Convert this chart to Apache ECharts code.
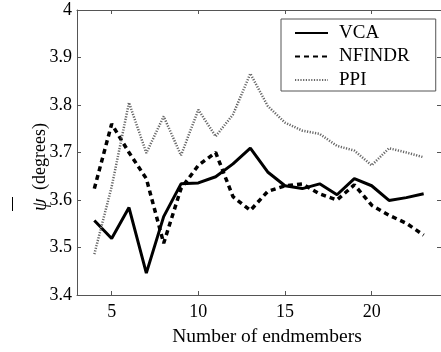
<!DOCTYPE html>
<html>
<head>
<meta charset="utf-8">
<script src="https://cdn.jsdelivr.net/npm/echarts@6/dist/echarts.min.js"></script>
<style>
  html, body { margin: 0; padding: 0; background: #fff; }
  #chart { width: 441px; height: 352px; }
</style>
</head>
<body>
<div id="chart"></div>
<script>
// Number of endmembers (x values)
const endmembers = [4, 5, 6, 7, 8, 9, 10, 11, 12, 13, 14, 15, 16, 17, 18, 19, 20, 21, 22, 23];
// Mean spectral angle (degrees) per algorithm
const vca    = [3.557, 3.519, 3.584, 3.446, 3.565, 3.634, 3.636, 3.649, 3.676, 3.709, 3.659, 3.630, 3.624, 3.634, 3.611, 3.645, 3.630, 3.599, 3.605, 3.613];
const nfindr = [3.624, 3.760, 3.700, 3.645, 3.509, 3.624, 3.673, 3.700, 3.607, 3.578, 3.618, 3.630, 3.634, 3.613, 3.600, 3.632, 3.589, 3.568, 3.551, 3.526];
const ppi    = [3.486, 3.628, 3.805, 3.699, 3.776, 3.694, 3.790, 3.734, 3.780, 3.866, 3.798, 3.763, 3.746, 3.739, 3.714, 3.704, 3.673, 3.709, 3.700, 3.690];
// Axis tick values
const xTicks = [5, 10, 15, 20];
const yTicks = [3.4, 3.5, 3.6, 3.7, 3.8, 3.9, 4.0];

const pairs = ys => endmembers.map((x, i) => [x, ys[i]]);
const FONT = "'Liberation Serif', 'Times New Roman', serif";
const frameColor = '#555';

const chart = echarts.init(document.getElementById('chart'), null, { renderer: 'canvas' });

const xBase = {
  type: 'value', min: 3, max: 24,
  axisLine: { show: true, lineStyle: { color: frameColor, width: 1 } },
  axisTick: { show: true, inside: true, length: 4, customValues: xTicks, lineStyle: { color: frameColor } },
  splitLine: { show: false }
};
const yBase = {
  type: 'value', min: 3.4, max: 4.0,
  axisLine: { show: true, lineStyle: { color: frameColor, width: 1 } },
  axisTick: { show: true, inside: true, length: 4, customValues: yTicks, lineStyle: { color: frameColor } },
  splitLine: { show: false }
};

chart.setOption({
  animation: false,
  backgroundColor: '#fff',
  grid: { left: 77, top: 10, width: 366, height: 287 },
  textStyle: { fontFamily: FONT },
  legend: {
    left: 281, top: 19,
    orient: 'vertical',
    backgroundColor: '#fff',
    borderColor: frameColor, borderWidth: 1,
    padding: [4, 26, 1, 13],
    itemWidth: 33, itemHeight: 12, itemGap: 3.5,
    itemStyle: { opacity: 0 },
    textStyle: { fontFamily: FONT, fontSize: 19, lineHeight: 20, color: '#000', padding: [0, 0, 0, 6] },
    data: ['VCA', 'NFINDR', 'PPI']
  },
  graphic: [{
    // y-axis title: overlined italic psi followed by the unit, read bottom to top
    type: 'group', x: 31, y: 211, rotation: Math.PI / 2,
    children: [
      { type: 'text', x: 0, y: 0,
        style: { text: 'ψ', font: "italic 20px 'Liberation Serif', serif", fill: '#000', verticalAlign: 'alphabetic', align: 'left' } },
      { type: 'line', shape: { x1: 0, y1: -18.5, x2: 14, y2: -18.5 }, style: { stroke: '#000', lineWidth: 1 } },
      { type: 'text', x: 21, y: 0,
        style: { text: '(degrees)', font: "18px 'Liberation Serif', serif", fill: '#000', verticalAlign: 'alphabetic', align: 'left' } }
    ]
  }],
  xAxis: [
    Object.assign({}, xBase, {
      position: 'bottom',
      name: 'Number of endmembers',
      nameLocation: 'middle', nameGap: 32,
      nameTextStyle: { fontFamily: FONT, fontSize: 19.5, color: '#000', padding: [0, 0, 0, 16] },
      axisLabel: { show: true, customValues: xTicks, margin: 8, fontFamily: FONT, fontSize: 18, color: '#000' }
    }),
    Object.assign({}, xBase, { position: 'top', axisLabel: { show: false } })
  ],
  yAxis: [
    Object.assign({}, yBase, {
      position: 'left',
      axisLabel: {
        show: true, customValues: yTicks, margin: 5, fontFamily: FONT, fontSize: 18, color: '#000',
        formatter: v => String(Math.round(v * 10) / 10)
      }
    }),
    Object.assign({}, yBase, { position: 'right', axisLabel: { show: false } })
  ],
  series: [
    {
      name: 'VCA', type: 'line', data: pairs(vca), symbol: 'none',
      lineStyle: { color: '#000', width: 3, type: 'solid' },
      itemStyle: { color: '#000' }
    },
    {
      name: 'NFINDR', type: 'line', data: pairs(nfindr), symbol: 'none',
      lineStyle: { color: '#000', width: 3.5, type: [5, 4] },
      itemStyle: { color: '#000' }
    },
    {
      name: 'PPI', type: 'line', data: pairs(ppi), symbol: 'none',
      lineStyle: { color: '#666', width: 2.5, type: [1.2, 1.5] },
      itemStyle: { color: '#666' }
    }
  ]
});
</script>
</body>
</html>
